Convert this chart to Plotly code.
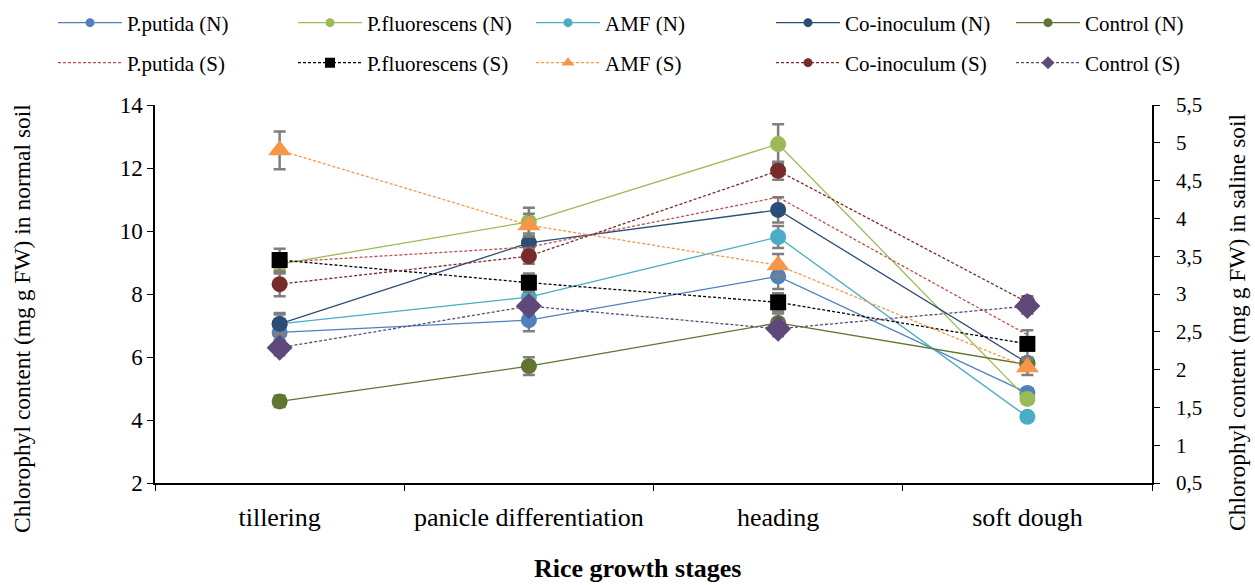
import plotly.graph_objects as go

stages = ["tillering", "panicle differentiation", "heading", "soft dough"]

# Normal soil (left axis)
putida_N = [6.78, 7.17, 8.56, 4.86]
fluor_N = [8.95, 10.29, 12.76, 4.67]
amf_N = [7.05, 7.90, 9.81, 4.10]
coin_N = [7.05, 9.62, 10.67, 5.81]
control_N = [4.59, 5.71, 7.08, 5.76]

putida_N_err = [0.25, 0.35, 0.40, 0.15]
fluor_N_err = [0.30, 0.45, 0.63, 0.15]
amf_N_err = [0.30, 0.30, 0.35, 0.12]
coin_N_err = [0.35, 0.30, 0.40, 0.15]
control_N_err = [0.18, 0.28, 0.30, 0.15]

# Saline soil (right axis)
putida_S = [3.42, 3.62, 4.28, 2.46]
fluor_S = [3.45, 3.15, 2.89, 2.34]
amf_S = [4.90, 3.91, 3.38, 2.03]
coin_S = [3.13, 3.50, 4.63, 2.89]
control_S = [2.29, 2.84, 2.54, 2.84]

putida_S_err = [0.10, 0.10, 0.12, 0.10]
fluor_S_err = [0.15, 0.12, 0.12, 0.18]
amf_S_err = [0.25, 0.15, 0.15, 0.10]
coin_S_err = [0.16, 0.10, 0.12, 0.08]
control_S_err = [0.10, 0.10, 0.10, 0.10]

FONT = "Liberation Serif, Times New Roman, serif"
ERR = "#7f7f7f"
BLACK = "#000000"

fig = go.Figure()

n_series = [
    ("P.putida (N)", putida_N, putida_N_err, "#4F81BD", "circle", 16, 9),
    ("P.fluorescens (N)", fluor_N, fluor_N_err, "#9BBB59", "circle", 16, 9),
    ("AMF (N)", amf_N, amf_N_err, "#4BACC6", "circle", 16, 9),
    ("Co-inoculum (N)", coin_N, coin_N_err, "#2C4D75", "circle", 16, 9),
    ("Control (N)", control_N, control_N_err, "#5F7530", "circle", 16, 9),
]
s_series = [
    ("P.putida (S)", putida_S, putida_S_err, "#C0504D", None, 0, 0),
    ("P.fluorescens (S)", fluor_S, fluor_S_err, "#000000", "square", 16, 10),
    ("AMF (S)", amf_S, amf_S_err, "#F79646", "triangle-up", 20, 11),
    ("Co-inoculum (S)", coin_S, coin_S_err, "#772C2A", "circle", 16, 9),
    ("Control (S)", control_S, control_S_err, "#5F497A", "diamond", 20, 10),
]

for name, vals, err, col, sym, size, lsize in n_series:
    fig.add_trace(go.Scatter(
        x=stages, y=vals, name=name, mode="lines+markers",
        line=dict(color=col, width=1.3),
        marker=dict(symbol=sym, size=size, color=col),
        error_y=dict(type="data", array=err, color=ERR, thickness=2.5, width=6),
        showlegend=False, yaxis="y",
    ))

for name, vals, err, col, sym, size, lsize in s_series:
    mode = "lines+markers" if sym else "lines"
    fig.add_trace(go.Scatter(
        x=stages, y=vals, name=name, mode=mode,
        line=dict(color=col, width=1.3, dash="3px,2px"),
        marker=dict(symbol=sym or "circle", size=size, color=col),
        error_y=dict(type="data", array=err, color=ERR, thickness=2.5, width=6,
                     visible=bool(sym)),
        showlegend=False, yaxis="y2",
    ))

# legend-only entries (one legend per entry, placed like the reference)
W, H, L, R, T, B = 1255, 585, 155, 103, 105, 102
PW, PH = W - L - R, H - T - B
legend_left_px = [53, 293, 531, 771, 1011]
row_y_px = [23, 63]

layout_legends = {}
k = 0
for row, series in enumerate([n_series, s_series]):
    dash = None if row == 0 else "3px,2px"
    for col_i, (name, vals, err, col, sym, size, lsize) in enumerate(series):
        k += 1
        lname = "legend" if k == 1 else f"legend{k}"
        mode = "lines+markers" if sym else "lines"
        fig.add_trace(go.Scatter(
            x=[None], y=[None], name=name, mode=mode,
            line=dict(color=col, width=1.3, dash=dash),
            marker=dict(symbol=sym or "circle", size=lsize or 1, color=col),
            showlegend=True, legend=lname, hoverinfo="skip",
        ))
        layout_legends[lname] = dict(
            x=(legend_left_px[col_i] - L) / PW,
            y=(H - B - row_y_px[row]) / PH,
            xanchor="left", yanchor="middle", orientation="h",
            font=dict(family=FONT, size=21, color=BLACK),
            itemwidth=64, bgcolor="rgba(0,0,0,0)", borderwidth=0,
        )

annotations = [
    dict(text="Chlorophyl content (mg g FW) in normal soil", textangle=-90,
         xref="paper", yref="paper", x=(22 - L) / PW, y=(H - B - 319) / PH,
         xanchor="center", yanchor="middle", showarrow=False,
         font=dict(family=FONT, size=23.5, color=BLACK)),
    dict(text="Chlorophyl content (mg g FW) in saline soil", textangle=-90,
         xref="paper", yref="paper", x=(1237 - L) / PW, y=(H - B - 322) / PH,
         xanchor="center", yanchor="middle", showarrow=False,
         font=dict(family=FONT, size=23.5, color=BLACK)),
    dict(text="<b>Rice growth stages</b>",
         xref="paper", yref="paper", x=(637 - L) / PW, y=(H - B - 568) / PH,
         xanchor="center", yanchor="middle", showarrow=False,
         font=dict(family=FONT, size=26, color=BLACK)),
]

fig.update_layout(
    width=W, height=H,
    margin=dict(l=L, r=R, t=T, b=B, autoexpand=False),
    paper_bgcolor="white", plot_bgcolor="white",
    separators=", ",
    font=dict(family=FONT, color=BLACK),
    showlegend=True,
    annotations=annotations,
    xaxis=dict(
        type="category", tickson="boundaries", range=[-0.5, 3.5],
        showline=True, linecolor=BLACK, linewidth=1.5,
        ticks="outside", ticklen=6, tickcolor=BLACK,
        showgrid=False, zeroline=False, ticklabelstandoff=10,
        tickfont=dict(family=FONT, size=26, color=BLACK),
    ),
    yaxis=dict(
        range=[2, 14], dtick=2, tick0=2,
        showline=True, linecolor=BLACK, linewidth=1.5,
        ticks="outside", ticklen=6, tickcolor=BLACK,
        showgrid=False, zeroline=False,
        tickfont=dict(family=FONT, size=23, color=BLACK),
    ),
    yaxis2=dict(
        range=[0.5, 5.5], dtick=0.5, tick0=0.5,
        overlaying="y", side="right",
        showline=True, linecolor=BLACK, linewidth=1.5,
        ticks="outside", ticklen=6, tickcolor=BLACK,
        showgrid=False, zeroline=False, ticklabelstandoff=12,
        tickfont=dict(family=FONT, size=21, color=BLACK),
    ),
    **layout_legends,
)

fig.write_html("out.html", config={"displayModeBar": False},
               post_script="document.body.style.margin='0px';")
